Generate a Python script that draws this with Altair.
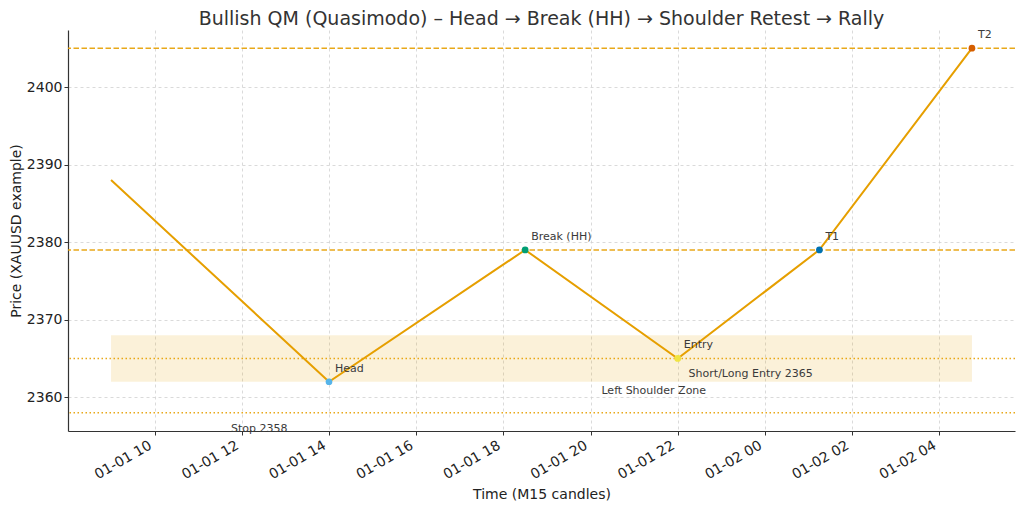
import altair as alt
import pandas as pd

# ---- data ----
times = ["2024-01-01 09:00", "2024-01-01 14:00", "2024-01-01 18:30",
         "2024-01-01 22:00", "2024-01-02 01:15", "2024-01-02 04:45"]
prices = [2388, 2362, 2379, 2365, 2379, 2405]
point_labels = ["", "Head", "Break (HH)", "Entry", "T1", "T2"]
point_colors = ["", "#56B4E9", "#009E73", "#F0E442", "#0072B2", "#D55E00"]

dashed_levels = [2405, 2379]
dotted_levels = [2365, 2358]

zone_low, zone_high = 2362, 2368
zone_start, zone_end = "2024-01-01 09:00", "2024-01-02 04:45"

note_texts = ["Short/Long Entry 2365", "Left Shoulder Zone", "Stop 2358"]
note_times = ["2024-01-01 22:15", "2024-01-01 20:15", "2024-01-01 11:45"]
note_prices = [2365, 2362, 2358]

y_ticks = [2360, 2370, 2380, 2390, 2400]

ORANGE = "#E69F00"
FONT = "DejaVu Sans"

df = pd.DataFrame({"t": pd.to_datetime(times), "price": prices,
                   "label": point_labels, "color": point_colors})
pts = df.iloc[1:].reset_index(drop=True)

# scale domains with 5% margins like the reference
tmin, tmax = df["t"].min(), df["t"].max()
tspan = tmax - tmin
t0, t1 = tmin - 0.05 * tspan, tmax + 0.05 * tspan
ymin, ymax = min(prices + dotted_levels), max(prices + dashed_levels)
yspan = ymax - ymin
y0, y1 = ymin - 0.05 * yspan, ymax + 0.05 * yspan


def dt(ts):
    return alt.DateTime(year=ts.year, month=ts.month, date=ts.day,
                        hours=ts.hour, minutes=ts.minute, seconds=ts.second)


x_tick_vals = [dt(pd.Timestamp("2024-01-01 10:00") + pd.Timedelta(hours=2 * i)) for i in range(10)]

xscale = alt.Scale(domain=[dt(t0), dt(t1)], nice=False)
yscale = alt.Scale(domain=[y0, y1], nice=False, zero=False)

X = alt.X("t:T", scale=xscale,
          axis=alt.Axis(values=x_tick_vals, format="%m-%d %H", labelAngle=-30,
                        labelOffset=-8, labelPadding=3,
                        title="Time (M15 candles)", titlePadding=6))
Y = alt.Y("price:Q", scale=yscale,
          axis=alt.Axis(values=y_ticks, format="d", title="Price (XAUUSD example)",
                        titlePadding=3, labelPadding=2))

zone_df = pd.DataFrame({"t": [pd.Timestamp(zone_start)], "t2": [pd.Timestamp(zone_end)],
                        "price": [zone_low], "p2": [zone_high]})
zone = alt.Chart(zone_df).mark_rect(color=ORANGE, opacity=0.15).encode(
    x=X, x2="t2:T", y=Y, y2="p2:Q")

dashed = alt.Chart(pd.DataFrame({"price": dashed_levels})).mark_rule(
    color=ORANGE, strokeWidth=1.5, strokeDash=[5.5, 2.5], opacity=0.9).encode(y=Y)
dotted = alt.Chart(pd.DataFrame({"price": dotted_levels})).mark_rule(
    color=ORANGE, strokeWidth=1.5, strokeDash=[1.5, 2.5], opacity=0.9).encode(y=Y)

line = alt.Chart(df).mark_line(color=ORANGE, strokeWidth=2).encode(x=X, y=Y)

points = alt.Chart(pts).mark_circle(size=45, opacity=1).encode(
    x=X, y=Y, color=alt.Color("color:N", scale=None))

point_text = alt.Chart(pts).mark_text(
    align="left", baseline="middle", dx=6, dy=-13, fontSize=11, color="#3a3a3a", font=FONT
).encode(x=X, y=Y, text="label:N")

notes = pd.DataFrame({"t": pd.to_datetime(note_times), "price": note_prices, "label": note_texts})
note1 = alt.Chart(notes.iloc[[0]]).mark_text(
    align="left", baseline="middle", dy=16, fontSize=11, color="#3a3a3a", font=FONT
).encode(x=X, y=Y, text="label:N")
note2 = alt.Chart(notes.iloc[[1]]).mark_text(
    align="left", baseline="middle", dy=9, fontSize=11, color="#3a3a3a", font=FONT
).encode(x=X, y=Y, text="label:N")
note3 = alt.Chart(notes.iloc[[2]]).mark_text(
    align="left", baseline="middle", dy=16, fontSize=11, color="#3a3a3a", font=FONT
).encode(x=X, y=Y, text="label:N")

chart = alt.layer(zone, dashed, dotted, line, points, point_text, note1, note2, note3).properties(
    width=947, height=401,
    title=alt.TitleParams("Bullish QM (Quasimodo) \u2013 Head \u2192 Break (HH) \u2192 Shoulder Retest \u2192 Rally",
                          fontSize=19, fontWeight="normal", color="#333", font=FONT,
                          anchor="middle", offset=0),
    autosize=alt.AutoSizeParams(type="none"),
    padding={"left": 60, "top": 22, "right": 1, "bottom": 77},
).configure_view(stroke=None).configure_axis(
    labelFont=FONT, titleFont=FONT, labelFontSize=14, titleFontSize=14,
    labelColor="#222", titleColor="#222", titleFontWeight="normal",
    domainColor="#333", domainWidth=1.2, tickColor="#333", tickSize=4,
    gridColor="#d0d0d0", gridDash=[3, 3], gridWidth=0.8,
)

chart.save("out.html", embed_options={"renderer": "svg", "actions": False})
